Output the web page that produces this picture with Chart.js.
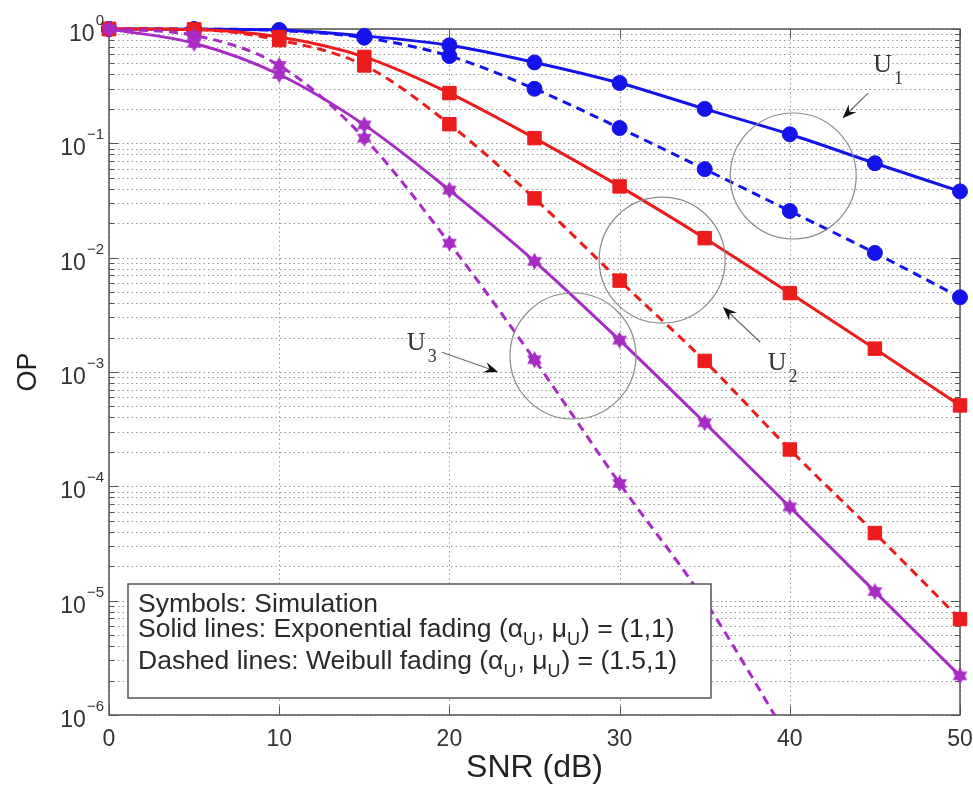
<!DOCTYPE html>
<html>
<head>
<meta charset="utf-8">
<script src="https://cdn.jsdelivr.net/npm/chart.js@4.4.1/dist/chart.umd.min.js"></script>
<style>
  html, body { margin: 0; padding: 0; background: #fff; }
  #wrap { width: 973px; height: 787px; }
</style>
</head>
<body>
<div id="wrap"><canvas id="grafico" width="973" height="787"></canvas></div>
<script>
// SNR (dB) values where the curves are sampled
const snr = [0, 5, 10, 15, 20, 25, 30, 35, 40, 45, 50];

// outage probability, solid = exponential fading, dashed = Weibull fading
const u1Exp = [1, 0.995, 0.98, 0.87, 0.72, 0.51, 0.337, 0.20, 0.12, 0.067, 0.038];
const u1Wei = [1, 0.998, 0.97, 0.84, 0.58, 0.30, 0.136, 0.0595, 0.0256, 0.011, 0.0045];
const u2Exp = [1, 0.99, 0.85, 0.57, 0.275, 0.111, 0.042, 0.0148, 0.0049, 0.0016, 0.00051];
const u2Wei = [1, 0.99, 0.80, 0.48, 0.147, 0.033, 0.0063, 0.00125, 0.00021, 0.000039, 0.0000069];
const u3Exp = [1, 0.75, 0.40, 0.145, 0.039, 0.0093, 0.0019, 0.00036, 0.000066, 0.000012, 0.0000022];
const u3Wei = [1, 0.88, 0.48, 0.111, 0.0134, 0.00128, 0.000106, 0.0000100, 0.0000006];

const xTicks = [0, 10, 20, 30, 40, 50];
const yDecades = [-6, -5, -4, -3, -2, -1, 0];

const legendLines = [
    [{ t: 'Symbols: Simulation' }],
    [{ t: 'Solid lines: Exponential fading (\u03B1' }, { t: 'U', sub: true }, { t: ', \u03BC' }, { t: 'U', sub: true }, { t: ') = (1,1)' }],
    [{ t: 'Dashed lines: Weibull fading (\u03B1' }, { t: 'U', sub: true }, { t: ', \u03BC' }, { t: 'U', sub: true }, { t: ') = (1.5,1)' }]
];

const BLUE = '#1414ea';
const RED = '#ec1c1c';
const PURPLE = '#a62cc4';
const SANS = '"Liberation Sans", Arial, sans-serif';

// six pointed star used as marker for U3
function hexagram(size, color){
    const c = document.createElement('canvas');
    c.width = size; c.height = size;
    const g = c.getContext('2d');
    const r = size / 2;
    g.fillStyle = color;
    [-Math.PI / 2, Math.PI / 2].forEach(rot => {
        g.beginPath();
        for(let k = 0; k < 3; k++){
            const a = rot + k * 2 * Math.PI / 3;
            g.lineTo(r + r * Math.cos(a), r + r * Math.sin(a));
        }
        g.closePath();
        g.fill();
    });
    return c;
}
const starImg = hexagram(17, PURPLE);

function serie(vals, color, dashed, style, radius){
    return {
        data: vals.map((v, i) => ({ x: snr[i], y: v })),
        borderColor: color,
        backgroundColor: color,
        borderWidth: 3,
        borderDash: dashed ? [9, 6] : [],
        pointStyle: style,
        pointRadius: radius,
        pointBorderWidth: 1,
        pointBorderColor: color,
        pointBackgroundColor: color,
        cubicInterpolationMode: 'monotone',
        clip: { left: 15, top: 15, right: 15, bottom: 0 }
    };
}

// annotation marks (data coordinates)
const circles = [ { x: 40.2, y: 0.0518 }, { x: 32.5, y: 0.00953 }, { x: 27.26, y: 0.00138 } ];
const userLabels = [
    { sub: '1', x: 44.9, y: 0.42, tail: { x: 44.6, y: 0.275 }, head: { x: 43.1, y: 0.166 } },
    { sub: '2', x: 38.7, y: 0.00104, tail: { x: 38.25, y: 0.00183 }, head: { x: 36.07, y: 0.0037 } },
    { sub: '3', x: 17.5, y: 0.00155, tail: { x: 19.57, y: 0.00149 }, head: { x: 22.86, y: 0.00100 } }
];

function arrow(ctx, x1, y1, x2, y2){
    const ang = Math.atan2(y2 - y1, x2 - x1);
    const L = 14, W = 5.5;
    ctx.strokeStyle = '#6a6a6a';
    ctx.lineWidth = 1.2;
    ctx.beginPath();
    ctx.moveTo(x1, y1);
    ctx.lineTo(x2 - L * 0.6 * Math.cos(ang), y2 - L * 0.6 * Math.sin(ang));
    ctx.stroke();
    ctx.save();
    ctx.translate(x2, y2);
    ctx.rotate(ang);
    ctx.fillStyle = '#111';
    ctx.beginPath();
    ctx.moveTo(0, 0);
    ctx.lineTo(-L, -W);
    ctx.lineTo(-L * 0.65, 0);
    ctx.lineTo(-L, W);
    ctx.closePath();
    ctx.fill();
    ctx.restore();
}

const matlabLook = {
    id: 'matlabLook',
    beforeDatasetsDraw(chart){
        const { ctx, chartArea: a, scales: { x, y } } = chart;
        ctx.save();
        // dotted grid
        ctx.strokeStyle = 'rgba(50,50,50,0.5)';
        ctx.lineWidth = 1;
        ctx.setLineDash([1.5, 3]);
        y.ticks.forEach(t => {
            const py = Math.round(y.getPixelForValue(t.value)) + 0.5;
            ctx.beginPath(); ctx.moveTo(a.left, py); ctx.lineTo(a.right, py); ctx.stroke();
        });
        x.ticks.forEach(t => {
            const px = Math.round(x.getPixelForValue(t.value)) + 0.5;
            ctx.beginPath(); ctx.moveTo(px, a.top); ctx.lineTo(px, a.bottom); ctx.stroke();
        });
        ctx.setLineDash([]);
        // inward ticks
        ctx.strokeStyle = '#555';
        y.ticks.forEach(t => {
            const py = Math.round(y.getPixelForValue(t.value)) + 0.5;
            const len = t.major ? 9 : 5;
            ctx.beginPath();
            ctx.moveTo(a.left, py); ctx.lineTo(a.left + len, py);
            ctx.moveTo(a.right, py); ctx.lineTo(a.right - len, py);
            ctx.stroke();
        });
        x.ticks.forEach(t => {
            const px = Math.round(x.getPixelForValue(t.value)) + 0.5;
            ctx.beginPath();
            ctx.moveTo(px, a.bottom); ctx.lineTo(px, a.bottom - 9);
            ctx.moveTo(px, a.top); ctx.lineTo(px, a.top + 9);
            ctx.stroke();
        });
        ctx.lineWidth = 1.5;
        ctx.strokeStyle = '#555';
        ctx.strokeRect(a.left, a.top, a.right - a.left, a.bottom - a.top);
        ctx.restore();
    },
    afterDatasetsDraw(chart){
        const { ctx, chartArea: a, scales: { x, y } } = chart;
        ctx.save();

        // circles around groups of curves
        ctx.strokeStyle = '#8a8a8a';
        ctx.lineWidth = 1.2;
        circles.forEach(c => {
            ctx.beginPath();
            ctx.arc(x.getPixelForValue(c.x), y.getPixelForValue(c.y), 63, 0, 2 * Math.PI);
            ctx.stroke();
        });

        // U labels with arrows
        userLabels.forEach(u => {
            const lx = x.getPixelForValue(u.x), ly = y.getPixelForValue(u.y);
            ctx.fillStyle = '#333';
            ctx.textAlign = 'left';
            ctx.textBaseline = 'alphabetic';
            ctx.font = '26px "Liberation Serif", serif';
            ctx.fillText('U', lx, ly);
            const w = ctx.measureText('U').width;
            ctx.font = '18px "Liberation Serif", serif';
            ctx.fillText(u.sub, lx + w + 2, ly + 12);
            arrow(ctx, x.getPixelForValue(u.tail.x), y.getPixelForValue(u.tail.y),
                       x.getPixelForValue(u.head.x), y.getPixelForValue(u.head.y));
        });

        // text box
        const bx = a.left + 19, by = a.bottom - 131, bw = 583, bh = 114;
        ctx.fillStyle = '#fff';
        ctx.fillRect(bx, by, bw, bh);
        ctx.strokeStyle = '#555';
        ctx.lineWidth = 1.5;
        ctx.strokeRect(bx, by, bw, bh);
        const baselines = [by + 28, by + 53, by + 85];
        ctx.fillStyle = '#2a2a2a';
        ctx.textAlign = 'left';
        legendLines.forEach((line, i) => {
            let cx = bx + 10;
            line.forEach(seg => {
                ctx.font = seg.sub ? '18px ' + SANS : '26.5px ' + SANS;
                ctx.fillText(seg.t, cx, baselines[i] + (seg.sub ? 8 : 0));
                cx += ctx.measureText(seg.t).width + (seg.sub ? 1 : 0);
            });
        });

        // y tick labels 10^n
        ctx.fillStyle = '#333';
        ctx.textAlign = 'right';
        yDecades.forEach(e => {
            const py = y.getPixelForValue(Math.pow(10, e));
            const ex = e === 0 ? '0' : '\u2212' + Math.abs(e);
            ctx.font = '15px ' + SANS;
            ctx.fillText(ex, 104, py - 4);
            const ew = ctx.measureText(ex).width;
            ctx.font = '23px ' + SANS;
            ctx.fillText('10', 104 - ew - 1, py + 12);
        });
        ctx.restore();
    }
};

const grafico = new Chart(document.getElementById('grafico').getContext('2d'), {
    type: 'line',
    data: {
        datasets: [
            serie(u3Exp, PURPLE, false, starImg, 8),
            serie(u3Wei, PURPLE, true, starImg, 8),
            serie(u2Exp, RED, false, 'rect', 9.5),
            serie(u2Wei, RED, true, 'rect', 9.5),
            serie(u1Exp, BLUE, false, 'circle', 7.5),
            serie(u1Wei, BLUE, true, 'circle', 7.5)
        ]
    },
    options: {
        responsive: false,
        animation: false,
        events: [],
        layout: { padding: { top: 29, right: 13, left: 0, bottom: 0 } },
        plugins: {
            legend: { display: false },
            tooltip: { enabled: false }
        },
        scales: {
            x: {
                type: 'linear',
                min: 0,
                max: 50,
                afterBuildTicks: s => { s.ticks = xTicks.map(v => ({ value: v })); },
                afterFit: s => { s.height = 72; s.paddingLeft = 0; s.paddingRight = 0; },
                grid: { display: false, drawTicks: false },
                border: { display: false },
                ticks: {
                    color: '#333',
                    padding: 11,
                    maxRotation: 0,
                    font: { family: SANS, size: 23 }
                },
                title: {
                    display: true,
                    text: 'SNR (dB)',
                    color: '#222',
                    padding: 0,
                    font: { family: SANS, size: 32 }
                }
            },
            y: {
                type: 'logarithmic',
                min: 1e-6,
                max: 1,
                afterBuildTicks: s => {
                    const t = [];
                    yDecades.forEach(e => {
                        for(let m = 1; m <= 9; m++){
                            if(e === 0 && m > 1) break;
                            t.push({ value: m * Math.pow(10, e), major: m === 1 });
                        }
                    });
                    s.ticks = t;
                },
                afterFit: s => { s.width = 109; s.paddingTop = 0; s.paddingBottom = 0; },
                grid: { display: false, drawTicks: false },
                border: { display: false },
                ticks: { display: false },
                title: {
                    display: true,
                    text: 'OP',
                    color: '#222',
                    padding: { top: 12, bottom: 0 },
                    font: { family: SANS, size: 27 }
                }
            }
        }
    },
    plugins: [matlabLook]
});
</script>
</body>
</html>
